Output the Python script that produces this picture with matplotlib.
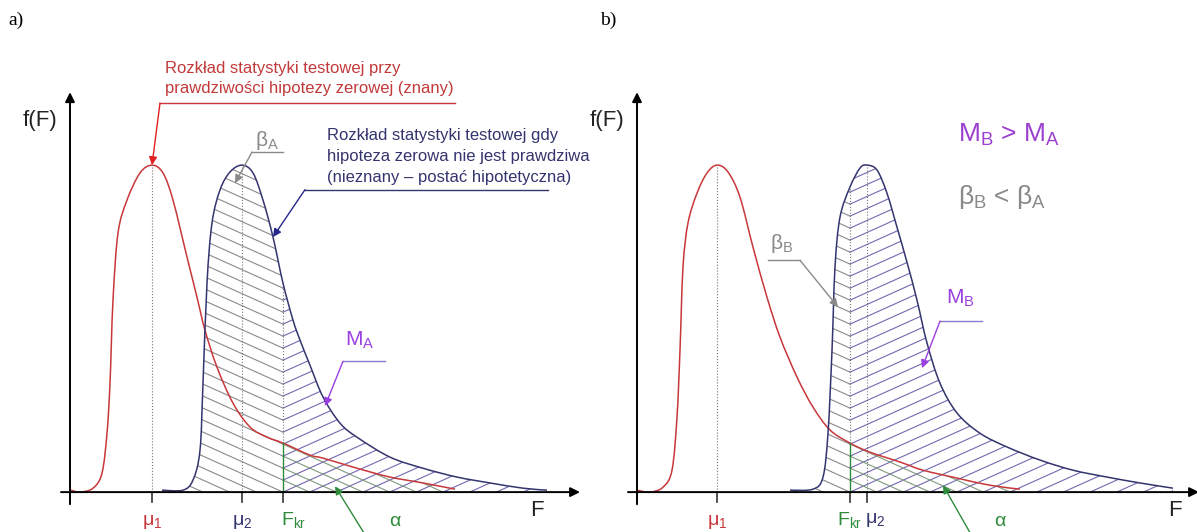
import numpy as np
import matplotlib.pyplot as plt
from matplotlib.path import Path
from matplotlib.patches import PathPatch

plt.rcParams['font.family'] = ['Liberation Sans', 'DejaVu Sans']
plt.rcParams['mathtext.fontset'] = 'custom'
plt.rcParams['mathtext.rm'] = 'Liberation Sans'
plt.rcParams['mathtext.it'] = 'Liberation Sans:italic'
plt.rcParams['mathtext.default'] = 'regular'

# ---- curves: F and f(F), peak = 1 ----
# panel a)
red_a_F = [0.01, 0.10, 0.23, 0.32, 0.37, 0.40, 0.43, 0.48, 0.57, 0.70, 0.82, 0.93, 1.03,
           1.17, 1.27, 1.35, 1.47, 1.63, 1.80, 1.97, 2.13, 2.40, 2.53, 2.87, 3.20, 3.53, 3.85]
red_a_f = [0.006, 0.0, 0.012, 0.058, 0.18, 0.333, 0.587, 0.792, 0.893, 0.976, 1.0, 0.976, 0.893,
           0.719, 0.596, 0.495, 0.382, 0.272, 0.199, 0.168, 0.150, 0.113, 0.104, 0.073, 0.046, 0.028, 0.009]
blue_a_F = [0.92, 1.13, 1.23, 1.30, 1.33, 1.37, 1.42, 1.50, 1.60, 1.72, 1.83, 1.93, 2.03,
            2.13, 2.23, 2.30, 2.40, 2.53, 2.70, 2.87, 3.20, 3.53, 3.87, 4.20, 4.53, 4.77]
blue_a_f = [0.006, 0.006, 0.037, 0.128, 0.333, 0.639, 0.823, 0.924, 0.979, 1.0, 0.976, 0.893, 0.780,
            0.639, 0.526, 0.465, 0.388, 0.291, 0.211, 0.168, 0.107, 0.073, 0.046, 0.028, 0.012, 0.006]
# panel b)
red_b_F = [0.00, 0.13, 0.26, 0.35, 0.40, 0.43, 0.46, 0.51, 0.60, 0.70, 0.80, 0.91, 1.03,
           1.16, 1.30, 1.43, 1.60, 1.76, 1.93, 2.13, 2.33, 2.63, 2.86, 3.20, 3.53, 3.83]
red_b_f = [0.006, 0.0, 0.015, 0.067, 0.229, 0.434, 0.688, 0.823, 0.914, 0.976, 1.0, 0.979, 0.902,
           0.749, 0.596, 0.474, 0.352, 0.260, 0.190, 0.150, 0.122, 0.092, 0.067, 0.043, 0.021, 0.009]
blue_b_F = [1.53, 1.76, 1.86, 1.91, 1.95, 1.98, 2.03, 2.13, 2.23, 2.30, 2.40, 2.50, 2.60,
            2.70, 2.80, 2.90, 3.03, 3.20, 3.43, 3.70, 4.03, 4.36, 4.70, 5.03, 5.36]
blue_b_f = [0.006, 0.009, 0.046, 0.180, 0.434, 0.688, 0.841, 0.933, 0.991, 1.0, 0.985, 0.914, 0.810,
            0.703, 0.587, 0.456, 0.333, 0.242, 0.180, 0.138, 0.098, 0.067, 0.046, 0.028, 0.012]

F_kr = 2.13
mu_a = [0.82, 1.72]
mu_b = [0.80, 2.30]

RED = '#c8373a'
NAVY = '#34346e'
GREEN = '#2e8b3a'
PURPLE = '#9a3fe0'
GRAY = '#8a8a8a'
AX = '#333333'

SX, SY = 100.0, 327.0   # pixels per data unit (layout below)

fig = plt.figure(figsize=(11.97, 5.32), dpi=100)
ax_a = fig.add_axes([0, 0, 598 / 1197, 1])
ax_b = fig.add_axes([598 / 1197, 0, 599 / 1197, 1])
ax_a.set_xlim(-0.70, 5.28)
ax_b.set_xlim(-0.39, 5.60)
for ax in (ax_a, ax_b):
    ax.set_ylim(-0.122, 1.505)
    ax.axis('off')


def smooth(xs, ys, close=False):
    # bezier path through the read points (Catmull-Rom tangents)
    p = np.column_stack([xs, ys])
    n = len(p)
    verts, codes = [p[0]], [Path.MOVETO]
    for i in range(n - 1):
        p0, p1, p2, p3 = p[max(i - 1, 0)], p[i], p[i + 1], p[min(i + 2, n - 1)]
        verts += [p1 + (p2 - p0) / 6, p2 - (p3 - p1) / 6, p2]
        codes += [Path.CURVE4] * 3
    if close:
        verts += [(xs[-1], 0), (xs[0], 0), (xs[0], 0)]
        codes += [Path.LINETO, Path.LINETO, Path.CLOSEPOLY]
    return Path(verts, codes)


def hatch(ax, area, x0, x1, slope, color, step=12):
    clip = PathPatch(area, fc='none', ec='none')
    ax.add_patch(clip)
    k = slope * SX / SY
    for j in range(-60, 60):
        c = j * step / SY
        ln, = ax.plot([x0, x1], [c + k * (x0 - F_kr), c + k * (x1 - F_kr)],
                      color=color, lw=0.8, zorder=1)
        ln.set_clip_path(clip)


def arrow(ax, tail, tip, color, lw=1.0, ms=12):
    ax.annotate('', xy=tip, xytext=tail, annotation_clip=False,
                arrowprops=dict(arrowstyle='-|>', color=color, lw=lw,
                                mutation_scale=ms, shrinkA=0, shrinkB=0))


def panel(ax, rF, rf, bF, bf, mu1, mu2, xend):
    b_kr = np.interp(F_kr, bF, bf)
    r_kr = np.interp(F_kr, rF, rf)
    # hatched regions: beta (left of F_kr), M (right), alpha (under red, right)
    blue_area = smooth(bF, bf, close=True)
    red_area = smooth(rF, rf, close=True)
    hatch(ax, blue_area, bF[0], F_kr, -0.45, GRAY)
    hatch(ax, blue_area, F_kr, bF[-1], 0.45, '#7468b0')
    hatch(ax, red_area, F_kr, rF[-1], -0.45, '#7f9a7f')
    # curves
    ax.add_patch(PathPatch(smooth(rF, rf), fc='none', ec=RED, lw=1.1, zorder=3))
    ax.add_patch(PathPatch(smooth(bF, bf), fc='none', ec=NAVY, lw=1.1, zorder=3))
    # guides
    ax.plot([mu1, mu1], [0, 1.0], ls=':', color='#777777', lw=0.8, zorder=2)
    ax.plot([mu2, mu2], [0, np.interp(mu2, bF, bf)], ls=':', color='#777777', lw=0.8, zorder=2)
    ax.plot([F_kr, F_kr], [r_kr, b_kr], ls=':', color='#777777', lw=0.8, zorder=2)
    ax.plot([F_kr, F_kr], [0, r_kr], color=GREEN, lw=1.0, zorder=3)
    # axes
    arrow(ax, (0, -0.037), (0, 1.223), 'black', lw=1.4, ms=14)
    arrow(ax, (-0.09, 0), (xend, 0), 'black', lw=1.4, ms=14)
    for x in (mu1, mu2, F_kr):
        ax.plot([x, x], [0, -0.03], color=AX, lw=1.2)
    ax.text(-0.30, 1.135, 'f(F)', fontsize=16, ha='center', va='center', color='#222222')


# ---- panel a ----
ax = ax_a
panel(ax, red_a_F, red_a_f, blue_a_F, blue_a_f, mu_a[0], mu_a[1], 5.10)
ax.text(-0.62, 1.443, 'a)', fontsize=14, family='Liberation Serif', ha='left', va='center')
ax.text(4.67, -0.055, 'F', fontsize=16, ha='center', va='center', color='#222222')
ax.text(mu_a[0], -0.09, 'μ$_1$', fontsize=14, color=RED, ha='center', va='center')
ax.text(mu_a[1], -0.09, 'μ$_2$', fontsize=14, color=NAVY, ha='center', va='center')
ax.text(F_kr - 0.02, -0.085, 'F$_{kr}$', fontsize=14, color=GREEN, ha='left', va='center')
ax.text(3.25, -0.09, 'α', fontsize=14, color=GREEN, ha='center', va='center')
arrow(ax, (2.97, -0.14), (2.65, 0.018), GREEN)

ax.text(0.95, 1.297, 'Rozkład statystyki testowej przy', fontsize=12, color='#c23a3a', va='center')
ax.text(0.95, 1.235, 'prawdziwości hipotezy zerowej (znany)', fontsize=12, color='#c23a3a', va='center')
ax.plot([0.90, 3.85], [1.190, 1.190], color=RED, lw=1.0)
arrow(ax, (0.90, 1.190), (0.82, 1.0), '#e02020')

ax.text(2.57, 1.092, 'Rozkład statystyki testowej gdy', fontsize=12, color=NAVY, va='center')
ax.text(2.57, 1.026, 'hipoteza zerowa nie jest prawdziwa', fontsize=12, color=NAVY, va='center')
ax.text(2.57, 0.962, '(nieznany – postać hipotetyczna)', fontsize=12, color=NAVY, va='center')
ax.plot([2.35, 4.78], [0.925, 0.925], color=NAVY, lw=1.0)
arrow(ax, (2.35, 0.925), (2.03, 0.78), '#26268c')

ax.text(1.97, 1.076, 'β$_A$', fontsize=15, color=GRAY, ha='center', va='center')
ax.plot([1.82, 2.13], [1.04, 1.04], color=GRAY, lw=1.0)
arrow(ax, (1.82, 1.04), (1.65, 0.945), GRAY)

ax.text(2.90, 0.465, 'M$_A$', fontsize=15, color=PURPLE, ha='center', va='center')
ax.plot([2.73, 3.15], [0.40, 0.40], color='#8a7ad0', lw=1.0)
arrow(ax, (2.73, 0.40), (2.55, 0.263), PURPLE)

# ---- panel b ----
ax = ax_b
panel(ax, red_b_F, red_b_f, blue_b_F, blue_b_f, mu_b[0], mu_b[1], 5.62)
ax.text(-0.37, 1.443, 'b)', fontsize=14, family='Liberation Serif', ha='left', va='center')
ax.text(5.38, -0.055, 'F', fontsize=16, ha='center', va='center', color='#222222')
ax.text(mu_b[0], -0.09, 'μ$_1$', fontsize=14, color=RED, ha='center', va='center')
ax.text(F_kr, -0.085, 'F$_{kr}$', fontsize=14, color=GREEN, ha='center', va='center')
ax.text(mu_b[1] + 0.08, -0.085, 'μ$_2$', fontsize=14, color=NAVY, ha='center', va='center')
ax.text(3.63, -0.09, 'α', fontsize=14, color=GREEN, ha='center', va='center')
arrow(ax, (3.36, -0.14), (3.06, 0.021), GREEN)

ax.text(3.21, 1.092, 'M$_B$ > M$_A$', fontsize=19, color='#9b3fd0', va='center')
ax.text(3.21, 0.902, 'β$_B$ < β$_A$', fontsize=19, color=GRAY, va='center')

ax.text(1.45, 0.76, 'β$_B$', fontsize=15, color=GRAY, ha='center', va='center')
ax.plot([1.31, 1.63], [0.709, 0.709], color=GRAY, lw=1.0)
arrow(ax, (1.63, 0.709), (2.01, 0.566), GRAY)

ax.text(3.23, 0.593, 'M$_B$', fontsize=15, color=PURPLE, ha='center', va='center')
ax.plot([3.03, 3.45], [0.523, 0.523], color='#8a7ad0', lw=1.0)
arrow(ax, (3.03, 0.523), (2.85, 0.379), PURPLE)

fig.savefig('out.png', dpi=100)
